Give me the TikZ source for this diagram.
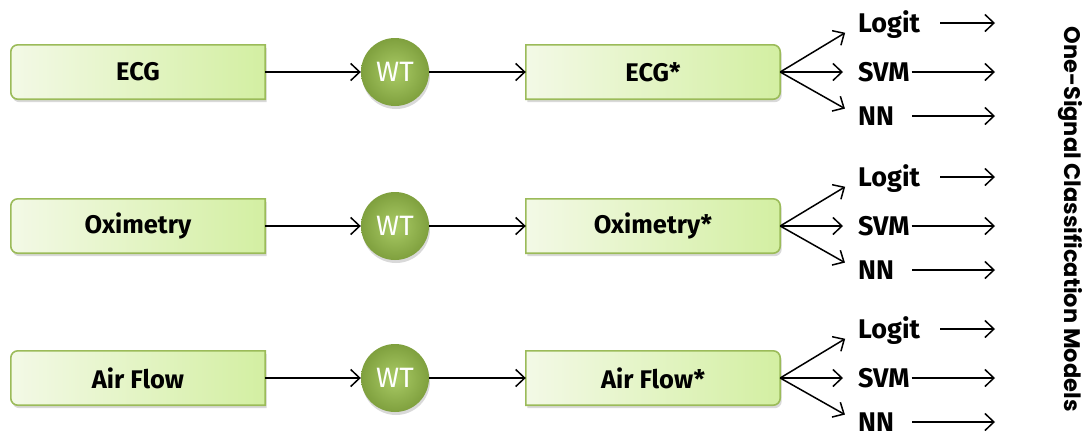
\documentclass[tikz,border=0pt]{standalone}
\usepackage{fontspec}
\setmainfont{Fira Sans}
\newfontfamily\sidefont{Poppins}
\usetikzlibrary{arrows.meta,shadows,backgrounds}

\definecolor{boxline}{HTML}{9BBB59}
\definecolor{boxleft}{HTML}{F3F9E6}
\definecolor{boxright}{HTML}{D3EFA2}
\definecolor{wtinner}{HTML}{AACB66}
\definecolor{wtouter}{HTML}{7FA03E}

\tikzset{
  signal/.style={minimum width=254pt, minimum height=54pt, inner sep=0pt,
    font=\fontsize{25.5}{27}\selectfont\bfseries},
  boxpath/.style={draw=boxline, line width=1.6pt, left color=boxleft, right color=boxright,
    drop shadow={shadow xshift=1.5pt, shadow yshift=-3pt, opacity=0.3}},
  wt/.style={circle, minimum size=68pt, inner sep=0pt, shading=radial,
    inner color=wtinner, outer color=wtouter, text=white,
    font=\fontsize{28}{30}\selectfont,
    drop shadow={shadow xshift=1pt, shadow yshift=-3pt, opacity=0.3}},
  model/.style={anchor=west, inner sep=0pt, font=\fontsize{27}{28}\selectfont\bfseries},
  arr/.style={-{Straight Barb[length=9pt,width=17pt]}, line width=1.5pt}
}

\begin{document}
\begin{tikzpicture}[x=1pt, y=-1pt]
  \useasboundingbox (0,0) rectangle (1091,440);
  \foreach \r/\c/\name in {1/72/ECG, 2/226/Oximetry, 3/378/Air Flow} {
    \node[signal] (src\r) at (138,\c) {\name};
    \node[wt] (wt\r) at (395,\c) {WT};
    \node[signal] (out\r) at (653,\c) {\name*};
    \node[model] (logit\r) at (858,{\c-47}) {Logit};
    \node[model] (svm\r) at (858,\c) {SVM};
    \node[model] (nn\r) at (858,{\c+44}) {NN};
    \coordinate (logitend\r) at (995,{\c-49});
    \coordinate (svmend\r) at (995,\c);
    \coordinate (nnend\r) at (995,{\c+44});
    % box outlines, rounded on one side only
    \begin{scope}[on background layer]
      \draw[boxpath] (src\r.north) [rounded corners=7pt] -- (src\r.north west)
        -- (src\r.south west) -- (src\r.south) [sharp corners] -- (src\r.south east)
        -- (src\r.north east) -- cycle;
      \draw[boxpath] (out\r.north) [rounded corners=7pt] -- (out\r.north east)
        -- (out\r.south east) -- (out\r.south) [sharp corners] -- (out\r.south west)
        -- (out\r.north west) -- cycle;
    \end{scope}
    \draw[arr] (src\r) -- (wt\r);
    \draw[arr] (wt\r) -- (out\r);
    \draw[arr, shorten >=15pt] (out\r.east) -- (logit\r.west);
    \draw[arr, shorten >=15pt] (out\r.east) -- (svm\r.west);
    \draw[arr, shorten >=15pt] (out\r.east) -- (nn\r.west);
    \draw[arr, shorten <=20pt] (logit\r.east |- logitend\r) -- (logitend\r);
    \draw[arr, shorten <=2pt] (svm\r.east) -- (svmend\r);
    \draw[arr, shorten <=18pt] (nn\r.east) -- (nnend\r);
  }
  \node[rotate=-90, font=\sidefont\fontsize{22.5}{24}\selectfont\bfseries] (side) at (1070,219)
    {One-Signal Classification Models};
\end{tikzpicture}
\end{document}
